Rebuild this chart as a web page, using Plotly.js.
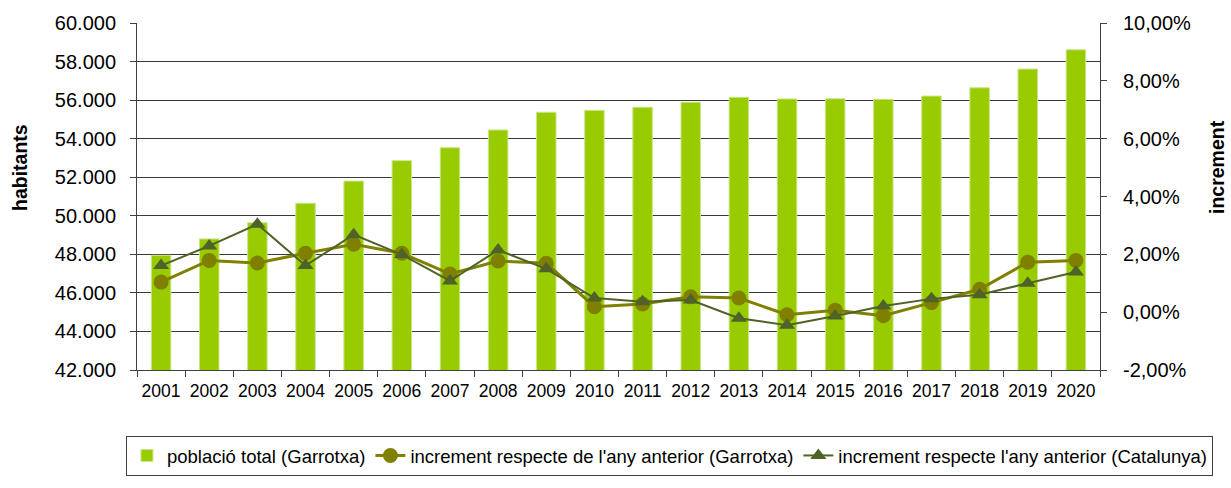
<!DOCTYPE html>
<html>
<head>
<meta charset="utf-8">
<script src="https://cdn.plot.ly/plotly-3.0.1.min.js"></script>
<style>html,body{margin:0;padding:0;background:#fff}#chart{width:1231px;height:488px}</style>
</head>
<body>
<div id="chart"></div>
<script>
const years = ["2001","2002","2003","2004","2005","2006","2007","2008","2009","2010","2011","2012","2013","2014","2015","2016","2017","2018","2019","2020"];
const poblacioGarrotxa = [47950,48800,49640,50650,51800,52860,53530,54450,55370,55470,55630,55890,56145,56060,56070,56040,56210,56640,57610,58610];
const incrementGarrotxa = [1.04,1.79,1.70,2.04,2.35,2.04,1.32,1.77,1.69,0.19,0.28,0.53,0.49,-0.09,0.07,-0.12,0.33,0.79,1.73,1.79];
const incrementCatalunya = [1.61,2.29,3.04,1.61,2.68,1.99,1.08,2.15,1.50,0.49,0.36,0.42,-0.21,-0.45,-0.13,0.21,0.46,0.60,1.00,1.39];
const rightTickVals = [-2,0,2,4,6,8,10];
const rightTickText = ["-2,00%","0,00%","2,00%","4,00%","6,00%","8,00%","10,00%"];
const seriesNames = ["població total (Garrotxa)","increment respecte de l'any anterior (Garrotxa)","increment respecte l'any anterior (Catalunya)"];
const axisTitles = ["habitants","increment"];

const FONT = "Liberation Sans, Arial, sans-serif";

const traces = [
  {type:"bar", x:years, y:poblacioGarrotxa, name:seriesNames[0], width:0.405,
   marker:{color:"#99CC00", line:{color:"#C8E68A", width:1}}, yaxis:"y"},
  {type:"scatter", mode:"lines+markers", x:years, y:incrementGarrotxa, name:seriesNames[1], yaxis:"y2",
   line:{color:"#808000", width:3}, marker:{symbol:"circle", size:15, color:"#808000"}},
  {type:"scatter", mode:"lines+markers", x:years, y:incrementCatalunya, name:seriesNames[2], yaxis:"y2",
   line:{color:"#4F6228", width:2}, marker:{symbol:"triangle-up", size:14, color:"#4F6228"}}
];

const layout = {
  width:1231, height:488,
  margin:{l:137, r:131, t:23, b:118, pad:0},
  paper_bgcolor:"#fff", plot_bgcolor:"#fff",
  separators:",.",
  font:{family:FONT, size:18, color:"#000"},
  showlegend:true,
  xaxis:{type:"category", range:[-0.5,19.5], autorange:false, showgrid:false, showline:true, linecolor:"#404040", linewidth:1,
    ticks:"outside", ticklen:6, tickcolor:"#404040", tickson:"boundaries", tickangle:0,
    tickfont:{size:17.5, family:FONT}, ticklabelstandoff:5, zeroline:false, fixedrange:true},
  yaxis:{range:[42000,60000], dtick:2000, tickformat:",.0f", showgrid:true, gridcolor:"#3a3a3a", gridwidth:1,
    showline:true, linecolor:"#404040", ticks:"outside", ticklen:6, tickcolor:"#404040",
    tickfont:{size:20, family:FONT}, ticklabelstandoff:10, zeroline:false},
  yaxis2:{overlaying:"y", side:"right", range:[-2,10], tickvals:rightTickVals, ticktext:rightTickText,
    showgrid:false, showline:true, linecolor:"#404040", ticks:"outside", ticklen:6, tickcolor:"#404040",
    tickfont:{size:20, family:FONT}, ticklabelstandoff:12, zeroline:false},
  yaxis3:{overlaying:"y", side:"right", range:[-2,10], tickvals:rightTickVals, showticklabels:false,
    showgrid:false, showline:false, ticks:"inside", ticklen:6, tickcolor:"#404040", zeroline:false},
  annotations:[
    {text:"<b>"+axisTitles[0]+"</b>", xref:"paper", yref:"paper", x:-0.1215, y:0.585, textangle:-90,
     showarrow:false, xanchor:"center", yanchor:"middle", font:{size:19.5, family:FONT}},
    {text:"<b>"+axisTitles[1]+"</b>", xref:"paper", yref:"paper", x:1.1215, y:0.585, textangle:-90,
     showarrow:false, xanchor:"center", yanchor:"middle", font:{size:19.5, family:FONT}}
  ],
  legend:{orientation:"h", x:1.1173, xanchor:"right", y:-0.19, yanchor:"top",
    bordercolor:"#404040", borderwidth:1, bgcolor:"#fff",
    font:{size:18.5, family:FONT}, itemwidth:30, traceorder:"normal"}
};

Plotly.newPlot("chart", traces, layout, {displayModeBar:false, staticPlot:true});
</script>
</body>
</html>
